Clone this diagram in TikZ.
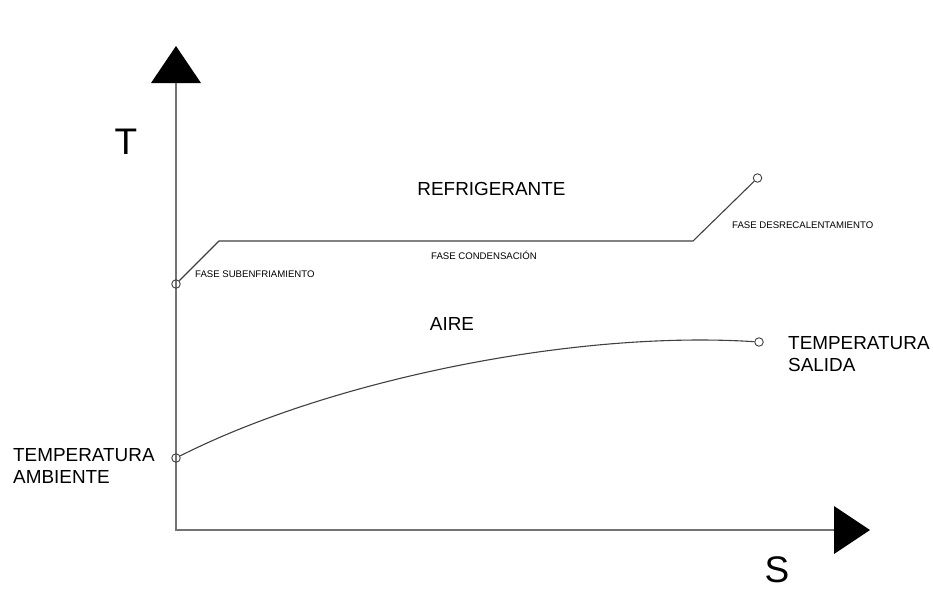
\documentclass[tikz,border=0pt]{standalone}
\usepackage{fontspec}
\setmainfont{Liberation Sans}
\begin{document}
\begin{tikzpicture}[x=1pt,y=-1pt,
  axisline/.style={draw=black!55,line width=1.4pt},
  curveline/.style={draw=black!75,line width=1.1pt},
  pt/.style={circle,draw=black!75,line width=0.9pt,minimum size=8.5pt,inner sep=0pt},
  biglab/.style={font=\fontsize{18.9}{21.5}\selectfont,align=left,inner sep=0pt},
  smalllab/.style={font=\fontsize{9.6}{11}\selectfont,inner sep=0pt},
  axlab/.style={font=\fontsize{37}{40}\selectfont,inner sep=0pt}]
\useasboundingbox (0,0) rectangle (933,590);
% axes
\coordinate (O) at (176,530);
\coordinate (ytop) at (176,83);
\coordinate (xend) at (834,530);
\draw[axisline] (ytop) -- (O) -- (xend);
\fill[black] (151,83) -- (176,46) -- (201,83) -- cycle;
\fill[black] (834,506) -- (870,530) -- (834,554) -- cycle;
\node[axlab] (T) at (126,142) {T};
\node[axlab] (S) at (777,570) {S};
% refrigerant
\node[pt] (r1) at (176,284) {};
\coordinate (r2) at (219,241);
\coordinate (r3) at (693,241);
\node[pt] (r4) at (757.5,178) {};
\draw[curveline] (r1) -- (r2) -- (r3) -- (r4);
\node[biglab] (refr) at (491.5,189) {REFRIGERANTE};
\node[smalllab,anchor=west] (sub) at (195,274) {FASE SUBENFRIAMIENTO};
\node[smalllab] (cond) at (484,255) {FASE CONDENSACIÓN};
\node[smalllab,anchor=west] (desr) at (732,225) {FASE DESRECALENTAMIENTO};
% air
\node[pt] (a1) at (176,458) {};
\node[pt] (a2) at (759,342) {};
\draw[curveline] (a1) .. controls (330,380) and (575,330) .. (a2);
\node[biglab] (aire) at (452,324) {AIRE};
\node[biglab,anchor=west] (tsal) at (788,354) {TEMPERATURA\\SALIDA};
\node[biglab,anchor=west] (tamb) at (13,466) {TEMPERATURA\\AMBIENTE};
\end{tikzpicture}
\end{document}
